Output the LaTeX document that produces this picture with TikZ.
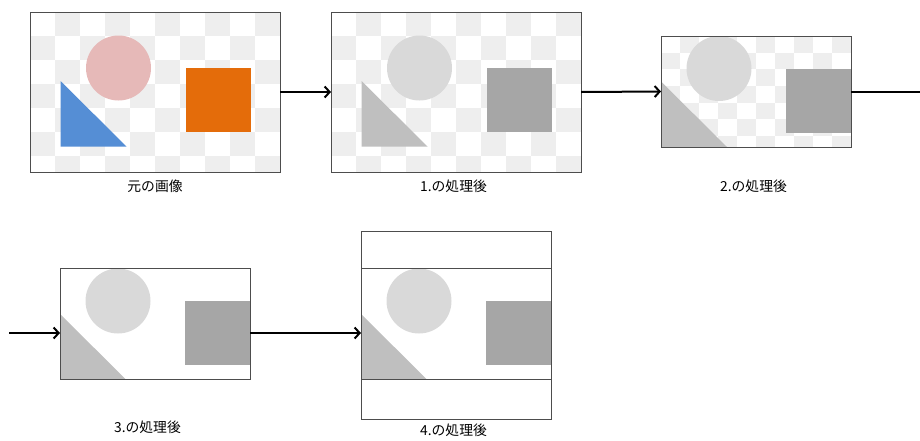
\documentclass[tikz,border=0pt]{standalone}
\usepackage{fontspec}
\setmainfont{Noto Sans CJK JP}
\usepackage{tikz}
\usetikzlibrary{positioning, arrows.meta}

\definecolor{chk}{HTML}{EEEEEE}
\definecolor{pinkc}{HTML}{E6B9B8}
\definecolor{bluet}{HTML}{558ED5}
\definecolor{orangesq}{HTML}{E46C0A}
\definecolor{greyc}{HTML}{D9D9D9}
\definecolor{greyt}{HTML}{BFBFBF}
\definecolor{greysq}{HTML}{A6A6A6}
\definecolor{framec}{HTML}{4D4D4D}

% checkerboard of 10 columns fitted to a box: x, y, width, height
\newcommand{\checks}[4]{%
    \begin{scope}
        \clip (#1,#2) rectangle ++(#3,#4);
        \foreach \i in {0,...,9}
        \foreach \j in {0,...,6}
        {
            \pgfmathtruncatemacro\k{mod(\i+\j,2)}
            \ifnum\k=1
                \fill[chk] ({#1+\i*#3/10},{#2+\j*#4*0.15}) rectangle ++({#3/10},{#4*0.15});
            \fi
        }
    \end{scope}
}

% circle, triangle and square of the picture
\newcommand{\figs}[3]{%
    \fill[#1] (88.5,56) circle (32.5);
    \fill[#2] (30.5,69) -- (30.5,134.5) -- (96.5,134.5) -- cycle;
    \fill[#3] (155.5,56) rectangle (220.5,120);
}

\tikzset{
    frm/.style={draw=framec, line width=1pt, rectangle, inner sep=0pt, outer sep=0pt},
    lbl/.style={font=\fontsize{13.8}{16}\selectfont, inner sep=0pt},
    arr/.style={line width=2pt, -{Straight Barb[length=5pt, width=11pt]}},
    conn/.style={line width=2pt}
}

\begin{document}
\begin{tikzpicture}[x=1pt, y=-1pt]
        \useasboundingbox (0,0) rectangle (920,440);

        % original
        \checks{30}{12}{250}{160}
        \begin{scope}[shift={(30,12)}]
            \figs{pinkc}{bluet}{orangesq}
        \end{scope}
        % step 1
        \checks{331}{12}{250}{160}
        \begin{scope}[shift={(331,12)}]
            \figs{greyc}{greyt}{greysq}
        \end{scope}
        % step 2: cropped
        \checks{661}{36}{190}{111}
        \begin{scope}[shift={(630.5,12.5)}]
            \clip (30.5,23.5) rectangle (220.5,134.5);
            \figs{greyc}{greyt}{greysq}
        \end{scope}
        % step 3: no background
        \begin{scope}[shift={(29.5,245)}]
            \clip (30.5,23.5) rectangle (220.5,134.5);
            \figs{greyc}{greyt}{greysq}
        \end{scope}
        % step 4: padded
        \begin{scope}[shift={(330.5,245)}]
            \clip (30.5,23.5) rectangle (220.5,134.5);
            \figs{greyc}{greyt}{greysq}
        \end{scope}

        \node[frm, minimum width=250pt, minimum height=160pt] (img0) at (155,92) {};
        \node[frm, minimum width=250pt, minimum height=160pt] (img1) at (456,92) {};
        \node[frm, minimum width=190pt, minimum height=111pt] (img2) at (756,91.5) {};
        \node[frm, minimum width=190pt, minimum height=111pt] (img3) at (155,324) {};
        \node[frm, minimum width=190pt, minimum height=188pt] (img4) at (456,325) {};
        \node[frm, minimum width=190pt, minimum height=111pt] (img4in) at (456,324) {};

        \node[lbl] (t0) at (155,186) {元の画像};
        \node[lbl] (t1) at (453.5,186) {1.の処理後};
        \node[lbl] (t2) at (753.5,186) {2.の処理後};
        \node[lbl] (t3) at (147.5,427) {3.の処理後};
        \node[lbl] (t4) at (453.5,430) {4.の処理後};

        \coordinate (out2) at (920,91.5);
        \coordinate (in3) at (9,333);
        \draw[arr] (img0.east) -- (img1.west);
        \draw[arr] (img1.east) -- (img2.west);
        \draw[conn] (img2.east) -- (out2);
        \draw[arr] (in3) -- (in3 -| img3.west);
        \draw[arr] (in3 -| img3.east) -- (in3 -| img4.west);
\end{tikzpicture}
\end{document}
